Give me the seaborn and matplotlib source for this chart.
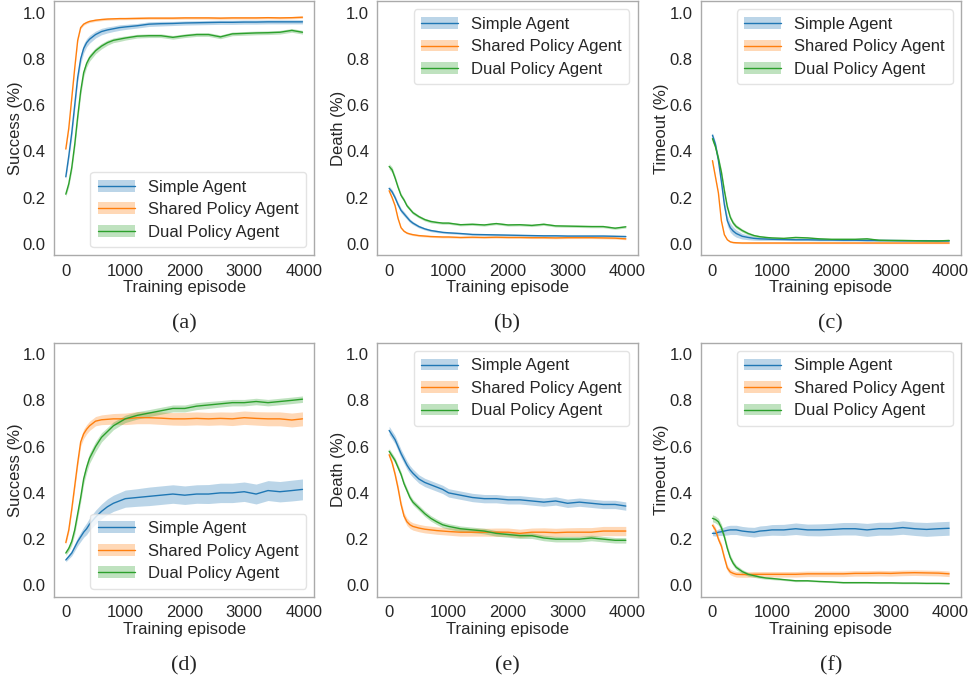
import numpy as np
import seaborn as sns
import matplotlib.pyplot as plt
from matplotlib.patches import Patch
from matplotlib.lines import Line2D

# shared x axis (training episode)
episodes = [0, 50, 100, 150, 200, 250, 300, 350, 400, 500, 600, 700, 800, 900, 1000,
            1200, 1400, 1600, 1800, 2000, 2200, 2400, 2600, 2800, 3000, 3200, 3400, 3600, 3800, 3980]

agents = ['Simple Agent', 'Shared Policy Agent', 'Dual Policy Agent']
captions = ['(a)', '(b)', '(c)', '(d)', '(e)', '(f)']
ylabels = ['Success (%)', 'Death (%)', 'Timeout (%)']

# (a) success, scenario 1
simple_a = [0.29, 0.38, 0.48, 0.60, 0.72, 0.80, 0.845, 0.87, 0.885, 0.905, 0.918, 0.925, 0.93, 0.935, 0.938,
            0.943, 0.95, 0.952, 0.953, 0.955, 0.956, 0.957, 0.958, 0.958, 0.959, 0.959, 0.96, 0.96, 0.96, 0.96]
shared_a = [0.41, 0.50, 0.63, 0.76, 0.88, 0.935, 0.95, 0.957, 0.962, 0.967, 0.97, 0.972, 0.973, 0.974, 0.974,
            0.975, 0.976, 0.976, 0.976, 0.977, 0.977, 0.977, 0.976, 0.977, 0.977, 0.977, 0.978, 0.977, 0.978, 0.98]
dual_a = [0.215, 0.26, 0.33, 0.43, 0.55, 0.66, 0.74, 0.78, 0.805, 0.835, 0.855, 0.87, 0.88, 0.885, 0.89,
          0.898, 0.9, 0.9, 0.893, 0.9, 0.905, 0.905, 0.895, 0.908, 0.91, 0.912, 0.913, 0.915, 0.923, 0.915]
band_simple_a = [0.01, 0.015, 0.02, 0.02, 0.02, 0.02, 0.02, 0.018, 0.017, 0.015, 0.014, 0.013, 0.012, 0.012, 0.011,
                 0.01, 0.01, 0.01, 0.009, 0.009, 0.009, 0.009, 0.009, 0.009, 0.009, 0.009, 0.009, 0.009, 0.009, 0.009]
band_shared_a = 0.005
band_dual_a = [0.01, 0.012, 0.015, 0.018, 0.02, 0.02, 0.018, 0.016, 0.015, 0.013, 0.012, 0.011, 0.01, 0.01, 0.009,
               0.008, 0.008, 0.008, 0.008, 0.008, 0.008, 0.008, 0.008, 0.008, 0.008, 0.008, 0.008, 0.008, 0.008, 0.008]

# (b) death, scenario 1
simple_b = [0.24, 0.225, 0.20, 0.17, 0.145, 0.13, 0.115, 0.10, 0.09, 0.075, 0.065, 0.058, 0.054, 0.05, 0.048,
            0.045, 0.041, 0.04, 0.039, 0.038, 0.037, 0.036, 0.035, 0.035, 0.034, 0.034, 0.034, 0.034, 0.033, 0.032]
shared_b = [0.23, 0.20, 0.165, 0.11, 0.07, 0.055, 0.047, 0.043, 0.04, 0.036, 0.034, 0.032, 0.031, 0.03, 0.03,
            0.028, 0.029, 0.028, 0.029, 0.028, 0.028, 0.027, 0.027, 0.026, 0.027, 0.027, 0.027, 0.026, 0.025, 0.022]
dual_b = [0.335, 0.32, 0.285, 0.245, 0.21, 0.19, 0.165, 0.15, 0.135, 0.118, 0.105, 0.097, 0.093, 0.09, 0.09,
          0.083, 0.085, 0.082, 0.088, 0.082, 0.083, 0.08, 0.085, 0.078, 0.077, 0.076, 0.075, 0.075, 0.068, 0.074]
band_simple_b = [0.01, 0.01, 0.01, 0.01, 0.01, 0.01, 0.009, 0.008, 0.007, 0.006, 0.005, 0.005, 0.005, 0.004, 0.004,
                 0.004, 0.004, 0.004, 0.004, 0.004, 0.004, 0.004, 0.004, 0.004, 0.004, 0.004, 0.004, 0.004, 0.004, 0.004]
band_shared_b = 0.004
band_dual_b = [0.012, 0.012, 0.011, 0.01, 0.009, 0.008, 0.008, 0.007, 0.007, 0.006, 0.006, 0.006, 0.005, 0.005, 0.005,
               0.005, 0.005, 0.005, 0.005, 0.005, 0.005, 0.005, 0.005, 0.005, 0.005, 0.005, 0.005, 0.005, 0.005, 0.005]

# (c) timeout, scenario 1
simple_c = [0.47, 0.43, 0.36, 0.27, 0.17, 0.10, 0.07, 0.055, 0.045, 0.033, 0.028, 0.024, 0.022, 0.021, 0.02,
            0.019, 0.018, 0.018, 0.017, 0.017, 0.016, 0.016, 0.015, 0.015, 0.015, 0.014, 0.014, 0.014, 0.013, 0.013]
shared_c = [0.36, 0.29, 0.22, 0.10, 0.04, 0.018, 0.009, 0.006, 0.005, 0.004, 0.004, 0.004, 0.004, 0.004, 0.004,
            0.004, 0.004, 0.004, 0.004, 0.004, 0.004, 0.004, 0.004, 0.004, 0.004, 0.004, 0.004, 0.004, 0.004, 0.004]
dual_c = [0.455, 0.42, 0.37, 0.31, 0.23, 0.16, 0.115, 0.09, 0.075, 0.058, 0.045, 0.036, 0.031, 0.028, 0.026,
          0.024, 0.028, 0.026, 0.022, 0.02, 0.02, 0.02, 0.022, 0.016, 0.015, 0.015, 0.014, 0.013, 0.013, 0.015]
band_simple_c = [0.01, 0.012, 0.015, 0.02, 0.022, 0.022, 0.02, 0.018, 0.016, 0.012, 0.01, 0.008, 0.007, 0.006, 0.005,
                 0.004, 0.004, 0.004, 0.004, 0.004, 0.004, 0.004, 0.004, 0.004, 0.004, 0.004, 0.004, 0.004, 0.004, 0.004]
band_shared_c = 0.003
band_dual_c = [0.012, 0.012, 0.012, 0.012, 0.012, 0.012, 0.01, 0.009, 0.008, 0.007, 0.006, 0.005, 0.005, 0.005, 0.004,
               0.004, 0.004, 0.004, 0.004, 0.004, 0.004, 0.004, 0.004, 0.004, 0.004, 0.004, 0.004, 0.004, 0.004, 0.004]

# (d) success, scenario 2
simple_d = [0.11, 0.125, 0.14, 0.165, 0.19, 0.21, 0.23, 0.245, 0.265, 0.295, 0.32, 0.34, 0.355, 0.365, 0.375,
            0.38, 0.385, 0.39, 0.395, 0.39, 0.395, 0.395, 0.40, 0.40, 0.405, 0.395, 0.41, 0.405, 0.41, 0.415]
shared_d = [0.185, 0.24, 0.33, 0.43, 0.53, 0.62, 0.655, 0.675, 0.69, 0.71, 0.716, 0.718, 0.72, 0.72, 0.72,
            0.725, 0.725, 0.723, 0.72, 0.72, 0.722, 0.72, 0.722, 0.72, 0.725, 0.722, 0.72, 0.72, 0.715, 0.72]
dual_d = [0.14, 0.16, 0.19, 0.24, 0.31, 0.38, 0.46, 0.51, 0.55, 0.60, 0.64, 0.665, 0.69, 0.705, 0.72,
          0.735, 0.745, 0.755, 0.765, 0.765, 0.775, 0.78, 0.785, 0.79, 0.79, 0.795, 0.79, 0.795, 0.80, 0.805]
band_simple_d = [0.008, 0.01, 0.012, 0.015, 0.018, 0.02, 0.022, 0.025, 0.027, 0.03, 0.032, 0.034, 0.035, 0.036, 0.037,
                 0.038, 0.04, 0.04, 0.04, 0.04, 0.04, 0.041, 0.042, 0.042, 0.042, 0.043, 0.043, 0.044, 0.045, 0.045]
band_shared_d = [0.008, 0.01, 0.012, 0.014, 0.016, 0.018, 0.02, 0.02, 0.02, 0.02, 0.021, 0.022, 0.023, 0.024, 0.025,
                 0.026, 0.026, 0.027, 0.027, 0.028, 0.028, 0.028, 0.028, 0.029, 0.029, 0.029, 0.03, 0.03, 0.03, 0.03]
band_dual_d = [0.01, 0.012, 0.015, 0.018, 0.02, 0.02, 0.022, 0.022, 0.022, 0.022, 0.02, 0.018, 0.017, 0.016, 0.016,
               0.016, 0.015, 0.015, 0.015, 0.015, 0.015, 0.015, 0.014, 0.014, 0.014, 0.014, 0.014, 0.014, 0.014, 0.014]

# (e) death, scenario 2
simple_e = [0.67, 0.65, 0.63, 0.60, 0.57, 0.545, 0.52, 0.50, 0.485, 0.46, 0.445, 0.435, 0.425, 0.415, 0.40,
            0.39, 0.38, 0.375, 0.375, 0.37, 0.37, 0.365, 0.36, 0.365, 0.355, 0.36, 0.355, 0.35, 0.35, 0.343]
shared_e = [0.565, 0.53, 0.48, 0.42, 0.35, 0.30, 0.275, 0.262, 0.255, 0.248, 0.243, 0.24, 0.237, 0.235, 0.233,
            0.23, 0.23, 0.23, 0.23, 0.23, 0.225, 0.23, 0.23, 0.228, 0.23, 0.23, 0.23, 0.235, 0.235, 0.235]
dual_e = [0.58, 0.56, 0.54, 0.51, 0.48, 0.44, 0.41, 0.38, 0.36, 0.335, 0.31, 0.29, 0.275, 0.262, 0.255,
          0.245, 0.24, 0.235, 0.225, 0.22, 0.215, 0.215, 0.205, 0.2, 0.2, 0.2, 0.205, 0.2, 0.195, 0.195]
band_simple_e = 0.018
band_shared_e = [0.01, 0.01, 0.012, 0.014, 0.015, 0.015, 0.016, 0.016, 0.016, 0.016, 0.016, 0.016, 0.016, 0.016, 0.016,
                 0.017, 0.017, 0.017, 0.018, 0.018, 0.018, 0.018, 0.019, 0.019, 0.019, 0.02, 0.02, 0.02, 0.02, 0.02]
band_dual_e = 0.012

# (f) timeout, scenario 2
simple_f = [0.225, 0.225, 0.23, 0.232, 0.235, 0.238, 0.24, 0.24, 0.24, 0.235, 0.232, 0.23, 0.235, 0.237, 0.24,
            0.24, 0.245, 0.24, 0.24, 0.242, 0.245, 0.245, 0.24, 0.245, 0.245, 0.25, 0.245, 0.242, 0.245, 0.247]
shared_f = [0.26, 0.24, 0.20, 0.17, 0.12, 0.075, 0.058, 0.052, 0.048, 0.047, 0.047, 0.048, 0.048, 0.048, 0.048,
            0.048, 0.048, 0.05, 0.05, 0.05, 0.05, 0.052, 0.052, 0.053, 0.052, 0.054, 0.055, 0.054, 0.053, 0.05]
dual_f = [0.29, 0.285, 0.275, 0.25, 0.21, 0.16, 0.12, 0.095, 0.078, 0.06, 0.048, 0.042, 0.036, 0.032, 0.03,
          0.025, 0.02, 0.02, 0.017, 0.015, 0.012, 0.012, 0.012, 0.011, 0.011, 0.01, 0.01, 0.009, 0.009, 0.008]
band_simple_f = [0.01, 0.012, 0.014, 0.016, 0.018, 0.02, 0.02, 0.02, 0.02, 0.02, 0.02, 0.021, 0.022, 0.022, 0.023,
                 0.024, 0.025, 0.025, 0.026, 0.026, 0.027, 0.027, 0.028, 0.028, 0.028, 0.029, 0.029, 0.03, 0.03, 0.03]
band_shared_f = 0.012
band_dual_f = [0.015, 0.015, 0.015, 0.015, 0.014, 0.013, 0.012, 0.011, 0.01, 0.009, 0.008, 0.007, 0.006, 0.005, 0.005,
               0.004, 0.004, 0.003, 0.003, 0.003, 0.003, 0.003, 0.003, 0.003, 0.003, 0.003, 0.003, 0.003, 0.003, 0.003]

panels = [
    ([simple_a, shared_a, dual_a], [band_simple_a, band_shared_a, band_dual_a], 'lower right'),
    ([simple_b, shared_b, dual_b], [band_simple_b, band_shared_b, band_dual_b], 'upper right'),
    ([simple_c, shared_c, dual_c], [band_simple_c, band_shared_c, band_dual_c], 'upper right'),
    ([simple_d, shared_d, dual_d], [band_simple_d, band_shared_d, band_dual_d], 'lower right'),
    ([simple_e, shared_e, dual_e], [band_simple_e, band_shared_e, band_dual_e], 'upper right'),
    ([simple_f, shared_f, dual_f], [band_simple_f, band_shared_f, band_dual_f], 'upper right'),
]

sns.set_style('white')
plt.rcParams['font.family'] = ['Liberation Sans', 'DejaVu Sans']
colors = sns.color_palette('tab10')[:3]

fig, axes = plt.subplots(2, 3, figsize=(9.69, 6.78), dpi=100)
fig.subplots_adjust(left=0.0557, right=0.9917, top=0.9985, bottom=0.1195, wspace=0.242, hspace=0.342)

for i, ax in enumerate(axes.flat):
    means, bands, loc = panels[i]
    handles = []
    for name, m, b, c in zip(agents, means, bands, colors):
        m = np.array(m)
        b = np.broadcast_to(np.array(b, dtype=float), m.shape)
        sns.lineplot(x=episodes, y=m, color=c, lw=1, ax=ax)
        ax.fill_between(episodes, m - b, m + b, color=c, alpha=0.3, lw=0)
        handles.append((Patch(facecolor=c, alpha=0.3, lw=0), Line2D([], [], color=c, lw=1)))
    ax.set_ylim(-0.05, 1.05)
    ax.set_yticks([0.0, 0.2, 0.4, 0.6, 0.8, 1.0])
    ax.set_xticks([0, 1000, 2000, 3000, 4000])
    ax.tick_params(labelsize=12, length=0, pad=6)
    ax.set_xlabel('Training episode', fontsize=12, labelpad=1)
    ax.set_ylabel(ylabels[i % 3], fontsize=12, labelpad=0)
    for s in ax.spines.values():
        s.set_color('#aaaaaa')
        s.set_linewidth(1)
    ax.legend(handles, agents, loc=loc, fontsize=12, frameon=True, edgecolor='#dddddd',
              handlelength=2.2, borderpad=0.45, labelspacing=0.45)
    ax.text(0.5, -0.27, captions[i], transform=ax.transAxes, ha='center', va='center',
            fontsize=16, family=['Liberation Serif', 'DejaVu Serif'])

plt.savefig('out.png', dpi=100)
